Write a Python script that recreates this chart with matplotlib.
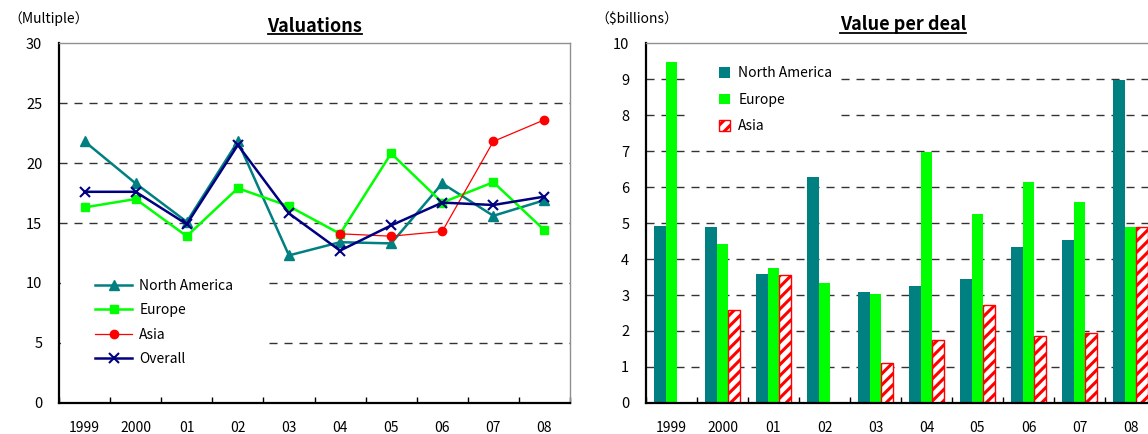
import numpy as np
import matplotlib.pyplot as plt
from matplotlib.lines import Line2D
from matplotlib.patches import Rectangle

plt.rcParams["font.family"] = ["Noto Sans CJK JP", "DejaVu Sans"]
plt.rcParams["hatch.linewidth"] = 2.2

# -------------------- Data --------------------
years = ["1999", "2000", "01", "02", "03", "04", "05", "06", "07", "08"]

# Valuation multiples
val_na = [21.8, 18.3, 15.1, 21.8, 12.3, 13.4, 13.3, 18.3, 15.6, 16.9]
val_europe = [16.3, 17.0, 13.9, 17.9, 16.4, 14.1, 20.8, 16.7, 18.4, 14.4]
val_asia = [np.nan, np.nan, np.nan, np.nan, np.nan, 14.1, 13.9, 14.3, 21.8, 23.6]
val_overall = [17.6, 17.6, 14.9, 21.5, 15.8, 12.7, 14.8, 16.7, 16.5, 17.2]

# Value per deal, $billions
deal_na = [4.93, 4.89, 3.58, 6.28, 3.07, 3.26, 3.44, 4.34, 4.52, 8.96]
deal_europe = [9.46, 4.41, 3.76, 3.32, 3.04, 6.96, 5.26, 6.13, 5.59, 4.88]
deal_asia = [np.nan, 2.58, 3.56, np.nan, 1.10, 1.75, 2.73, 1.86, 1.94, 4.90]

TEAL = "#008080"
GREEN = "#00FF00"
RED = "#FF0000"
NAVY = "#000080"
GRID_DASH = (0, (5.8, 5))

# -------------------- Layout --------------------
W, H = 1148, 434
fig = plt.figure(figsize=(W / 100, H / 100), dpi=100)


def axes_px(x0, y0, x1, y1):
    return fig.add_axes([x0 / W, 1 - y1 / H, (x1 - x0) / W, (y1 - y0) / H])


ax1 = axes_px(59, 43, 570, 403)
ax2 = axes_px(646, 43, 1156, 403)

x = np.arange(len(years))


def style_axes(ax, ymax, ystep, grid_vals):
    ax.set_xlim(-0.5, len(years) - 0.5)
    ax.set_ylim(0, ymax)
    for side in ["left", "bottom"]:
        ax.spines[side].set_color("black")
        ax.spines[side].set_linewidth(1.6)
    for side in ["top", "right"]:
        ax.spines[side].set_color("#909090")
        ax.spines[side].set_linewidth(1.0)
    ax.set_yticks(np.arange(0, ymax + ystep / 2, ystep))
    ax.tick_params(axis="y", length=0, pad=12, labelsize=10.5)
    ax.set_xticks(np.arange(-0.5, len(years) - 0.4, 1.0))
    ax.set_xticklabels([])
    ax.tick_params(axis="x", which="major", direction="in", length=4, width=1)
    ax.set_xticks(x, minor=True)
    ax.set_xticklabels(years, minor=True)
    ax.tick_params(axis="x", which="minor", length=0, pad=13, labelsize=10)
    ax.hlines(grid_vals, -0.5, len(years) - 0.5, colors="#333333",
              linestyles=[GRID_DASH], linewidth=1.0, zorder=1)


# -------------------- Valuations --------------------
style_axes(ax1, 30, 5, [5, 10, 15, 20, 25])
ax1.add_patch(Rectangle((0.004, 0.05), 0.395, 0.33, transform=ax1.transAxes,
                        facecolor="white", edgecolor="none", zorder=1.5))
ax1.plot(x, val_na, color=TEAL, lw=1.8, marker="^", ms=7, label="North America", zorder=3)
ax1.plot(x, val_europe, color=GREEN, lw=1.8, marker="s", ms=6, label="Europe", zorder=4)
ax1.plot(x, val_asia, color=RED, lw=0.9, marker="o", ms=6, label="Asia", zorder=5)
ax1.plot(x, val_overall, color=NAVY, lw=1.8, marker="x", ms=7, mew=1.5,
         label="Overall", zorder=6)
ax1.legend(loc="upper left", bbox_to_anchor=(0.07, 0.345), frameon=False,
           borderpad=0, borderaxespad=0, handlelength=2.7, handletextpad=0.5,
           labelspacing=0.75, fontsize=10)

# -------------------- Value per deal --------------------
style_axes(ax2, 10, 1, list(range(1, 10)))
ax2.add_patch(Rectangle((0.085, 0.72), 0.29, 0.235, transform=ax2.transAxes,
                        facecolor="white", edgecolor="none", zorder=1.5))
bw = 0.225
ax2.bar(x - bw, deal_na, bw, color=TEAL, label="North America", zorder=2)
ax2.bar(x, deal_europe, bw, color=GREEN, label="Europe", zorder=2)
ax2.bar(x + bw, deal_asia, bw, facecolor="white", edgecolor=RED, hatch="///",
        linewidth=1.0, label="Asia", zorder=2)
ax2.legend(loc="upper left", bbox_to_anchor=(0.144, 0.935), frameon=False,
           borderpad=0, borderaxespad=0, handlelength=0.75, handleheight=0.75,
           handletextpad=0.6, labelspacing=0.9, fontsize=10)

# -------------------- Titles and units --------------------
fig.text(8 / W, 1 - 19 / H, "（Multiple）", fontsize=10, va="center", ha="left")
fig.text(595 / W, 1 - 19 / H, r"（\$billions）", fontsize=10, va="center", ha="left")

titles = [
    fig.text(315 / W, 1 - 26 / H, "Valuations", fontsize=13, weight="bold",
             ha="center", va="center"),
    fig.text(903 / W, 1 - 25 / H, "Value per deal", fontsize=13, weight="bold",
             ha="center", va="center"),
]

# underline the titles
fig.canvas.draw()
renderer = fig.canvas.get_renderer()
for t in titles:
    bb = t.get_window_extent(renderer)
    y_line = (bb.y0 + 2) / H
    fig.add_artist(Line2D([bb.x0 / W, bb.x1 / W], [y_line, y_line],
                          color="black", lw=1.3, transform=fig.transFigure))

fig.savefig("out.png", dpi=100)
